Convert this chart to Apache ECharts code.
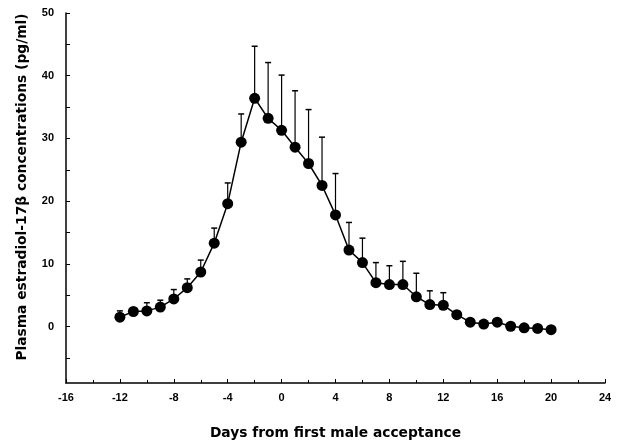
<!DOCTYPE html>
<html>
<head>
<meta charset="utf-8">
<script src="https://cdn.jsdelivr.net/npm/echarts@6/dist/echarts.min.js"></script>
<style>html,body{margin:0;padding:0;background:#fff}#c{width:618px;height:445px}</style>
</head>
<body>
<div id="c"></div>
<script>
var days = [-12,-11,-10,-9,-8,-7,-6,-5,-4,-3,-2,-1,0,1,2,3,4,5,6,7,8,9,10,11,12,13,14,15,16,17,18,19,20];
var meanE2 = [1.5,2.4,2.5,3.1,4.4,6.2,8.7,13.3,19.6,29.4,36.4,33.2,31.3,28.6,26.0,22.5,17.8,12.2,10.2,7.0,6.7,6.7,4.75,3.5,3.4,1.9,0.7,0.4,0.7,0.05,-0.2,-0.3,-0.5];
var semE2 = [1.0,0.6,1.3,1.1,1.5,1.4,1.9,2.4,3.3,4.5,8.3,8.9,8.8,9.0,8.6,7.7,6.6,4.4,3.9,3.2,3.0,3.7,3.75,2.2,2.0,0.4,0,0,0,0,0,0,0];
var yLabels = [0,10,20,30,40,50];
var yTicks = [-5,0,5,10,15,20,25,30,35,40,45,50];

var lineData = days.map(function(d,i){return [d, meanE2[i]];});
var errData = days.map(function(d,i){return [d, meanE2[i], meanE2[i]+semE2[i]];});

var chart = echarts.init(document.getElementById('c'), null, {renderer:'canvas'});
chart.setOption({
  animation:false,
  backgroundColor:'#fff',
  grid:{left:66, right:13, top:13, bottom:62, containLabel:false},
  xAxis:{
    type:'value', min:-16, max:24, interval:4,
    axisLine:{show:true, onZero:false, lineStyle:{color:'#000', width:1.5}},
    axisTick:{show:true, inside:true, length:4, lineStyle:{color:'#000'}},
    minorTick:{show:true, splitNumber:2, length:3, lineStyle:{color:'#000'}},
    splitLine:{show:false},
    axisLabel:{color:'#000', fontFamily:'Liberation Sans, Arial', fontSize:11, fontWeight:'bold', margin:9},
    name:'Days from first male acceptance', nameLocation:'middle', nameGap:43,
    nameTextStyle:{color:'#000', fontFamily:'DejaVu Sans, Liberation Sans', fontSize:13.8, fontWeight:'bold'}
  },
  yAxis:{
    type:'value', min:-9, max:50,
    axisLine:{show:true, onZero:false, lineStyle:{color:'#000', width:1.5}},
    axisTick:{show:true, inside:true, length:4, customValues:yTicks, lineStyle:{color:'#000'}},
    splitLine:{show:false},
    axisLabel:{color:'#000', fontFamily:'Liberation Sans, Arial', fontSize:11, fontWeight:'bold', margin:12, customValues:yLabels},
    name:'Plasma estradiol-17\u03b2 concentrations (pg/ml)', nameLocation:'middle', nameGap:37,
    nameTextStyle:{color:'#000', fontFamily:'DejaVu Sans, Liberation Sans', fontSize:13.8, fontWeight:'bold', padding:[0,0,0,22]}
  },
  series:[
    {
      type:'custom', data:errData, z:1,
      encode:{x:0, y:[1,2]},
      renderItem:function(params, api){
        var x = api.value(0);
        var lo = api.coord([x, api.value(1)]);
        var hi = api.coord([x, api.value(2)]);
        if (api.value(2) - api.value(1) < 0.05) return null;
        return {type:'group', children:[
          {type:'line', shape:{x1:lo[0], y1:lo[1], x2:hi[0], y2:hi[1]}, style:{stroke:'#000', lineWidth:1.2}},
          {type:'line', shape:{x1:hi[0]-3, y1:hi[1], x2:hi[0]+3, y2:hi[1]}, style:{stroke:'#000', lineWidth:1.5}}
        ]};
      }
    },
    {
      type:'line', data:lineData, z:3,
      symbol:'circle', symbolSize:11,
      lineStyle:{color:'#000', width:1.5},
      itemStyle:{color:'#000'}
    }
  ]
});
</script>
</body>
</html>
